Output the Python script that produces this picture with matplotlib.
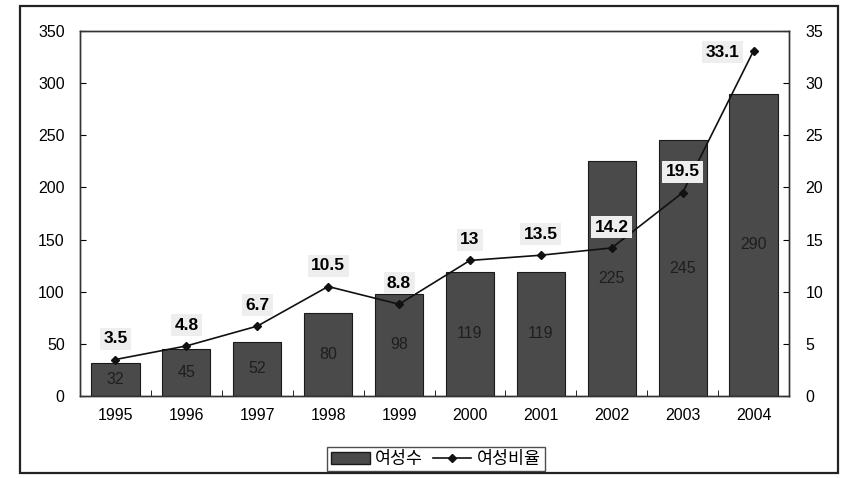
import matplotlib
matplotlib.use("Agg")
import matplotlib.pyplot as plt
from matplotlib.patches import Rectangle
from matplotlib.lines import Line2D
import numpy as np

plt.rcParams['font.family'] = ['Liberation Sans', 'Noto Sans CJK KR', 'DejaVu Sans']

years = ['1995', '1996', '1997', '1998', '1999', '2000', '2001', '2002', '2003', '2004']
women_count = [32, 45, 52, 80, 98, 119, 119, 225, 245, 290]
women_ratio = [3.5, 4.8, 6.7, 10.5, 8.8, 13, 13.5, 14.2, 19.5, 33.1]
ratio_labels = ['3.5', '4.8', '6.7', '10.5', '8.8', '13', '13.5', '14.2', '19.5', '33.1']
bar_name = '여성수'
line_name = '여성비율'

fig = plt.figure(figsize=(8.44, 4.78), dpi=100)
fig.patches.append(Rectangle((20/844, 1-473/478), 818/844, 467/478, transform=fig.transFigure,
                             fill=False, edgecolor='#222222', linewidth=1.6))

ax = fig.add_axes([80/844, 1-396/478, 709/844, 365/478])
x = np.arange(len(years))
ax.bar(x, women_count, width=0.68, color='#4a4a4a', edgecolor='#1a1a1a', linewidth=0.8, zorder=2)
ax.set_xlim(-0.5, len(years)-0.5)
ax.set_ylim(0, 350)
ax.set_yticks(range(0, 351, 50))
ax.set_xticks(x)
ax.set_xticklabels(years)
ax.set_xticks(np.arange(-0.5, len(years), 1), minor=True)
ax.tick_params(axis='x', which='major', length=0, pad=9, labelsize=11.5)
ax.tick_params(axis='x', which='minor', direction='in', length=4)
ax.tick_params(axis='y', direction='in', length=4, pad=11, labelsize=11.5)
for s in ax.spines.values():
    s.set_color('#333333')
    s.set_linewidth(1.0)

for xi, v in zip(x, women_count):
    ax.text(xi, v/2, str(v), ha='center', va='center', fontsize=11.5, color='#1e1e1e', zorder=3)

ax2 = ax.twinx()
ax2.set_ylim(0, 35)
ax2.set_yticks(range(0, 36, 5))
ax2.tick_params(axis='y', direction='in', length=4, pad=12, labelsize=11.5)
ax2.plot(x, women_ratio, color='#111111', linewidth=1.2, marker='D', markersize=4.5,
         markerfacecolor='#111111', zorder=4)

for i, (xi, v, lab) in enumerate(zip(x, women_ratio, ratio_labels)):
    if i == len(years) - 1:
        ax2.annotate(lab, (xi, v), xytext=(-10, -1), textcoords='offset points',
                     ha='right', va='center', fontsize=12.5, fontweight='bold',
                     bbox=dict(boxstyle='square,pad=0.2', facecolor='#eeeeee', edgecolor='none'), zorder=5)
    else:
        ax2.annotate(lab, (xi, v), xytext=(0, 15), textcoords='offset points',
                     ha='center', va='center', fontsize=12.5, fontweight='bold',
                     bbox=dict(boxstyle='square,pad=0.2', facecolor='#eeeeee', edgecolor='none'), zorder=5)
for s in ax2.spines.values():
    s.set_color('#333333')
    s.set_linewidth(1.0)

handles = [Rectangle((0, 0), 1, 1, facecolor='#4a4a4a', edgecolor='#1a1a1a'),
           Line2D([], [], color='#111111', marker='D', markersize=4.5, linewidth=1.2)]
leg = fig.legend(handles, [bar_name, line_name], loc='center', bbox_to_anchor=(436/844, 1-459/478),
                 ncol=2, frameon=True, fancybox=False, edgecolor='#222222', fontsize=12.5,
                 handlelength=2.2, handletextpad=0.3, columnspacing=0.6, borderpad=0.25)
leg.get_frame().set_linewidth(1.0)

fig.savefig('out.png', dpi=100)
